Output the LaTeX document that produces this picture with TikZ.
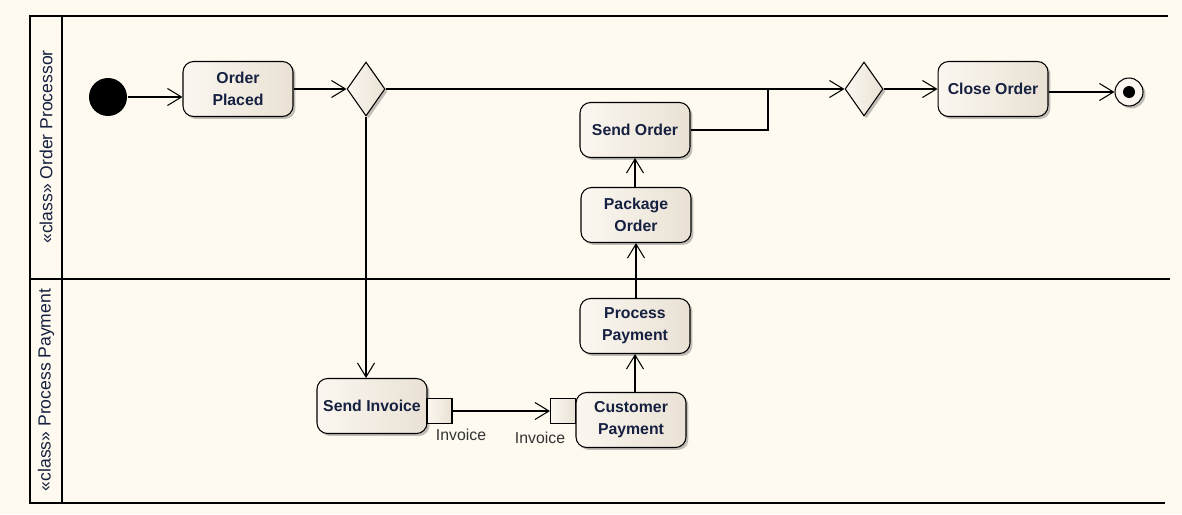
\documentclass[tikz,border=0pt]{standalone}
\usepackage{fontspec}
\setmainfont{Liberation Sans}
\usepackage{xcolor}
\usetikzlibrary{positioning,arrows.meta,shapes.geometric,shadows}
\definecolor{paper}{RGB}{254,250,239}
\definecolor{actL}{RGB}{251,247,240}
\definecolor{actR}{RGB}{233,225,212}
\definecolor{ink}{RGB}{22,32,64}

\begin{document}
\begin{tikzpicture}[x=0.02cm, y=-0.02cm, line width=0.6pt,
  >={Straight Barb[length=2.8mm,width=3.4mm]},
  shd/.style={drop shadow={shadow xshift=1.4pt, shadow yshift=-1.4pt, opacity=0.35, fill=black!70}},
  act/.style={draw, rounded corners=6pt, align=center, minimum width=2.2cm, minimum height=1.1cm,
    left color=actL, right color=actR, shd, text=ink, font=\fontsize{9}{12.5}\selectfont\bfseries},
  dec/.style={draw, diamond, inner sep=0pt, minimum width=0.76cm, minimum height=1.08cm,
    left color=actL, right color=actR, shd},
  pin/.style={draw, minimum size=0.5cm, inner sep=0pt, left color=actL, right color=actR},
  lane/.style={rotate=90, text=ink, font=\fontsize{10}{12}\selectfont},
  pinlbl/.style={text=black!80, font=\fontsize{9}{11}\selectfont}]
% background and swimlanes
\fill[paper] (0,0) rectangle (1182,514);
\draw[line width=0.8pt] (1168,16) -- (30,16) -- (30,503) -- (1165,503);
\draw[line width=0.8pt] (62,16) -- (62,503);
\draw[line width=0.8pt] (30,279) -- (1170,279);
\node[lane] (ln1) at (46,147) {«class» Order Processor};
\node[lane] (ln2) at (46,390) {«class» Process Payment};

% order processor lane
\node[circle, fill=black, minimum size=0.76cm, inner sep=0pt] (init) at (108,97) {};
\node[act] (op) at (238,89) {Order\\Placed};
\node[dec] (d1) at (366,89) {};
\node[dec] (d2) at (864,89) {};
\node[act] (co) at (993,89) {Close Order};
\node[circle, draw, fill=actL, minimum size=0.56cm, inner sep=0pt, shd] (fin) at (1129,92) {};
\fill[black] (fin.center) circle (0.12cm);
\node[act] (so) at (635,130) {Send Order};
\node[act] (po) at (636,215) {Package\\Order};
\coordinate (jn) at (768,89);

% process payment lane
\node[act] (pp) at (635,326) {Process\\Payment};
\node[act] (si) at (372,406) {Send Invoice};
\node[pin] (sip) at (439.5,411) {};
\node[act] (cp) at (631,420) {Customer\\Payment};
\node[pin] (cpp) at (563,411) {};
\node[pinlbl] (sil) at (461,435) {Invoice};
\node[pinlbl] (cpl) at (540,438) {Invoice};

% flows
\draw[->] (init) -- (init -| op.west);
\draw[->] (op) -- (d1);
\draw[->] (d1) -- (d2);
\draw[->] (d2) -- (co);
\draw[->] (co.east |- fin) -- (fin);
\draw (so.east) -| (jn);
\draw[->] (d1) -- (d1 |- si.north);
\draw[->] (sip) -- (cpp);
\draw[->] (cp.north -| pp) -- (pp);
\draw[->] (pp.north -| po) -- (po);
\draw[->] (po.north -| so) -- (so);
\end{tikzpicture}
\end{document}
